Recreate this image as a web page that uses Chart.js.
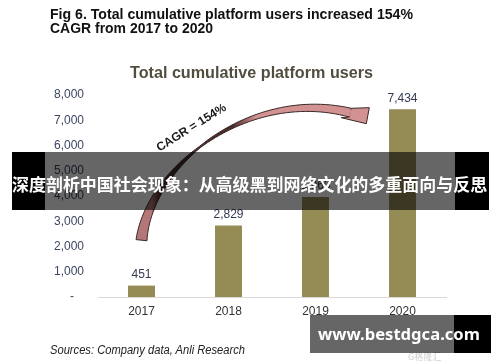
<!DOCTYPE html>
<html>
<head>
<meta charset="utf-8">
<script src="https://cdn.jsdelivr.net/npm/chart.js@4"></script>
<style>
  html, body { margin: 0; padding: 0; background: #fff; }
  #wrap { position: relative; width: 500px; height: 362px; overflow: hidden; background: #fff; }
  canvas { position: absolute; left: 0; top: 0; }
  .txt { position: absolute; white-space: nowrap; display: inline-block; transform-origin: left center; }
  #fig1, #fig2 { left: 50px; font: bold 14px "Liberation Sans", Arial, sans-serif; line-height: 14px; color: #111; }
  #fig1 { top: 7px; }
  #fig2 { top: 21px; }
  #ctitle { left: 130px; top: 63.6px; font: bold 17px "Liberation Sans", Arial, sans-serif; line-height: 17px; color: #524e3f; }
  #src { left: 50px; top: 344px; font: italic 12px "Liberation Sans", Arial, sans-serif; line-height: 12px; color: #222; }
  .blk { position: absolute; background: #000; }
  .gry { position: absolute; background: rgba(0,0,0,0.6); }
  #banner { position: absolute; left: 12px; top: 172px; font: bold 16.3px "Noto Sans CJK SC", sans-serif; line-height: 24px; color: #fff; white-space: nowrap; transform-origin: left center; }
  #wm { position: absolute; left: 318px; top: 321px; font: bold 18.5px "Noto Sans", "Open Sans", sans-serif; line-height: 26px; color: #fff; white-space: nowrap; transform-origin: left center; }
  #logo { position: absolute; left: 408px; top: 350px; font: 9px "Noto Sans CJK SC", sans-serif; color: #d0d0d0; }
</style>
</head>
<body>
<div id="wrap">
  <canvas id="c" width="500" height="362"></canvas>
  <div id="fig1" class="txt">Fig 6. Total cumulative platform users increased 154%</div>
  <div id="fig2" class="txt">CAGR from 2017 to 2020</div>
  <div id="ctitle" class="txt">Total cumulative platform users</div>
  <div id="src" class="txt">Sources: Company data, Anli Research</div>

  <div class="blk" style="left:12px;top:152px;width:33px;height:58px;"></div>
  <div class="gry" style="left:45px;top:152px;width:410px;height:58px;"></div>
  <div class="blk" style="left:455px;top:152px;width:34px;height:58px;"></div>
  <div id="banner">深度剖析中国社会现象：从高级黑到网络文化的多重面向与反思</div>

  <div id="logo">G格隆汇</div>
  <div class="gry" style="left:310px;top:315px;width:144px;height:38px;"></div>
  <div class="blk" style="left:454px;top:315px;width:37px;height:38px;"></div>
  <div id="wm">www.bestdgca.com</div>
</div>
<script>
// ---- data ----
const categories = ['2017', '2018', '2019', '2020'];
const users = [451, 2829, 3960, 7434];
const yTicks = [0, 1000, 2000, 3000, 4000, 5000, 6000, 7000, 8000];
const cagrLabel = 'CAGR = 154%';

// fit helper for text widths
function fit(id, w) {
  const el = document.getElementById(id);
  const r = el.getBoundingClientRect().width;
  el.style.transform = 'scaleX(' + (w / r) + ')';
}
function fitFont(id, w) {
  const el = document.getElementById(id);
  const r = el.getBoundingClientRect().width;
  const fs = parseFloat(getComputedStyle(el).fontSize);
  el.style.fontSize = (fs * w / r) + 'px';
}
fit('fig1', 363);
fit('fig2', 163);
fit('ctitle', 243);
fit('src', 195);
fitFont('banner', 475);
fitFont('wm', 162);

const fmt = v => v.toLocaleString('en-US');

const barLabels = {
  id: 'barLabels',
  afterDatasetsDraw(chart) {
    const ctx = chart.ctx;
    const meta = chart.getDatasetMeta(0);
    ctx.save();
    ctx.font = '12px "Liberation Sans", Arial, sans-serif';
    ctx.fillStyle = '#333a52';
    ctx.textAlign = 'center';
    ctx.textBaseline = 'middle';
    meta.data.forEach((el, i) => {
      ctx.fillText(fmt(users[i]), el.x, el.y - 11);
    });
    ctx.restore();
  }
};

const cagrArrow = {
  id: 'cagrArrow',
  afterDatasetsDraw(chart) {
    const xs = chart.scales.x, ys = chart.scales.y, ctx = chart.ctx;
    const P = (c, v) => ({ x: xs.getPixelForValue(c), y: ys.getPixelForValue(v) });
    const p0 = P(0, 2250), p1 = P(0.09, 5200), p2 = P(1.24, 8300), p3 = P(2.4, 7300);
    const bez = t => {
      const u = 1 - t;
      return {
        x: u*u*u*p0.x + 3*u*u*t*p1.x + 3*u*t*t*p2.x + t*t*t*p3.x,
        y: u*u*u*p0.y + 3*u*u*t*p1.y + 3*u*t*t*p2.y + t*t*t*p3.y
      };
    };
    const dbez = t => {
      const u = 1 - t;
      return {
        x: 3*u*u*(p1.x-p0.x) + 6*u*t*(p2.x-p1.x) + 3*t*t*(p3.x-p2.x),
        y: 3*u*u*(p1.y-p0.y) + 6*u*t*(p2.y-p1.y) + 3*t*t*(p3.y-p2.y)
      };
    };
    const wid = t => t < 0.45 ? 11 - 9.5 * (t / 0.45) : 1.5 + 7.5 * ((t - 0.45) / 0.55);
    const N = 60, lower = [], upper = [];
    for (let i = 0; i <= N; i++) {
      const t = i / N, p = bez(t), d = dbez(t);
      const l = Math.hypot(d.x, d.y) || 1;
      const nx = -d.y / l, ny = d.x / l, w = wid(t) / 2;
      lower.push({ x: p.x + nx * w, y: p.y + ny * w });
      upper.push({ x: p.x - nx * w, y: p.y - ny * w });
    }
    ctx.save();
    const g = ctx.createLinearGradient(p0.x - 5, 0, p3.x, 0);
    g.addColorStop(0, '#b47676');
    g.addColorStop(0.07, '#b47676');
    g.addColorStop(0.11, '#4a2c2c');
    g.addColorStop(0.45, '#4a2c2c');
    g.addColorStop(0.56, '#d39292');
    g.addColorStop(1, '#d39292');
    ctx.beginPath();
    lower.forEach((p, i) => i ? ctx.lineTo(p.x, p.y) : ctx.moveTo(p.x, p.y));
    for (let i = upper.length - 1; i >= 0; i--) ctx.lineTo(upper[i].x, upper[i].y);
    ctx.closePath();
    ctx.fillStyle = g;
    ctx.fill();
    ctx.strokeStyle = '#3a2828';
    ctx.lineWidth = 1;
    ctx.stroke();
    // arrow head (joins the band's end)
    const ue = upper[N], le = lower[N];
    ctx.beginPath();
    ctx.moveTo(ue.x, ue.y);
    ctx.lineTo(p3.x + 19, p3.y - 5);
    ctx.lineTo(p3.x + 16, p3.y + 11);
    ctx.lineTo(p3.x - 9, p3.y + 5);
    ctx.lineTo(le.x, le.y);
    ctx.closePath();
    ctx.fillStyle = '#d39292';
    ctx.fill();
    ctx.stroke();
    // cover the inner seam
    ctx.beginPath();
    ctx.moveTo(ue.x, ue.y + 1);
    ctx.lineTo(le.x, le.y - 1);
    ctx.strokeStyle = '#d39292';
    ctx.lineWidth = 1.5;
    ctx.stroke();
    // label
    const lp = P(0.575, 6700);
    ctx.translate(lp.x, lp.y);
    ctx.rotate(-32 * Math.PI / 180);
    ctx.font = 'bold 12px "Liberation Sans", Arial, sans-serif';
    ctx.fillStyle = '#1a1a1a';
    ctx.textAlign = 'center';
    ctx.textBaseline = 'middle';
    ctx.fillText(cagrLabel, 0, 0);
    ctx.restore();
  }
};

new Chart(document.getElementById('c'), {
  type: 'bar',
  data: {
    labels: categories,
    datasets: [{
      data: users,
      backgroundColor: '#958b55',
      borderWidth: 0,
      barPercentage: 0.31,
      categoryPercentage: 1
    }]
  },
  options: {
    responsive: false,
    animation: false,
    devicePixelRatio: 1,
    layout: { autoPadding: false, padding: { top: 95, left: 0, right: 54, bottom: 35 } },
    plugins: { legend: { display: false }, tooltip: { enabled: false }, title: { display: false } },
    scales: {
      x: {
        grid: { display: false, drawTicks: false },
        border: { display: true, color: '#d9d9d9', width: 1 },
        ticks: { color: '#333', padding: 7, font: { family: '"Liberation Sans", Arial, sans-serif', size: 12 } },
        afterFit: s => { s.height = 30; }
      },
      y: {
        min: 0, max: 8000,
        afterBuildTicks: s => { s.ticks = yTicks.map(v => ({ value: v })); },
        grid: { display: false, drawTicks: false },
        border: { display: false },
        ticks: {
          color: '#3b4660', padding: 14,
          font: { family: '"Liberation Sans", Arial, sans-serif', size: 12 },
          callback: v => v === 0 ? '-   ' : fmt(v)
        },
        afterFit: s => { s.width = 98; }
      }
    }
  },
  plugins: [barLabels, cagrArrow]
});
</script>
</body>
</html>
